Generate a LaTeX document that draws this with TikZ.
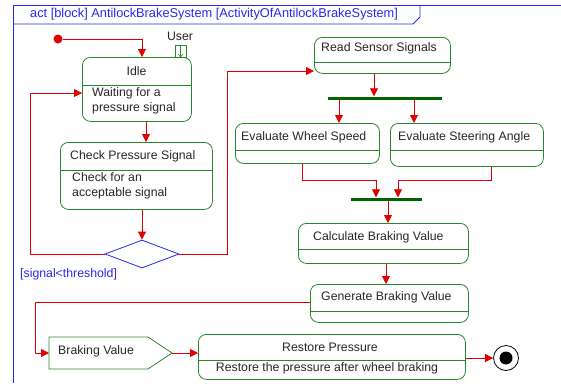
\documentclass[tikz,border=0pt]{standalone}
\usepackage{fontspec}
\setmainfont{Liberation Sans}
\usetikzlibrary{arrows.meta,shapes.geometric}
\definecolor{grn}{RGB}{40,135,40}
\definecolor{dgrn}{RGB}{0,100,0}
\definecolor{rd}{RGB}{225,0,0}
\definecolor{blu}{RGB}{40,40,235}
\begin{document}
\begin{tikzpicture}[x=1pt,y=-1pt, font=\fontsize{12.3}{15}\selectfont,
  box/.style={draw=grn, rounded corners=8pt, line width=0.8pt, anchor=north west, inner sep=0},
  div/.style={draw=grn, line width=0.8pt},
  flow/.style={draw=rd, line width=0.8pt},
  arr/.style={flow, -{Triangle[length=8pt,width=8pt]}},
  lbl/.style={anchor=west, inner sep=0, text=black!85},
  mlbl/.style={anchor=west, inner sep=0, text=black!85, align=left},
  bar/.style={fill=dgrn, inner sep=0, minimum height=3pt}]
\useasboundingbox (0,0) rectangle (561,383);
% frame
\draw[blu, line width=0.8pt] (13,383) -- (13,5) -- (561,5);
\draw[blu, line width=0.8pt] (13,24) -- (413,24) -- (420,17) -- (420,5);
\node[lbl, text=blu, font=\fontsize{12.8}{15}\selectfont] (title) at (30,14.5) {act [block] AntilockBrakeSystem [ActivityOfAntilockBrakeSystem]};
% boxes
\node[box, minimum width=109pt, minimum height=64pt] (idle) at (82,57) {};
\draw[div] (idle.west |- 0,85) -- (idle.east |- 0,85);
\node[inner sep=0, text=black!85] (idlet) at (136.5,71) {Idle};
\node[mlbl] (idleb) at (92,100.5) {Waiting for a\\pressure signal};

\node[box, minimum width=152pt, minimum height=67pt] (check) at (60,142) {};
\draw[div] (check.west |- 0,170) -- (check.east |- 0,170);
\node[lbl] (checkt) at (70,156) {Check Pressure Signal};
\node[mlbl] (checkb) at (72,185.5) {Check for an\\acceptable signal};

\node[box, minimum width=136pt, minimum height=36pt] (read) at (314,37) {};
\draw[div] (read.west |- 0,62) -- (read.east |- 0,62);
\node[lbl] (readt) at (321,48) {Read Sensor Signals};

\node[box, minimum width=144pt, minimum height=40pt] (evw) at (235,123) {};
\draw[div] (evw.west |- 0,150) -- (evw.east |- 0,150);
\node[lbl] (evwt) at (241,137) {Evaluate Wheel Speed};

\node[box, minimum width=153pt, minimum height=43pt] (evs) at (390,123) {};
\draw[div] (evs.west |- 0,150) -- (evs.east |- 0,150);
\node[lbl] (evst) at (398,137) {Evaluate Steering Angle};

\node[box, minimum width=170pt, minimum height=40pt] (calc) at (298,223) {};
\draw[div] (calc.west |- 0,249) -- (calc.east |- 0,249);
\node[lbl] (calct) at (313,237) {Calculate Braking Value};

\node[box, minimum width=158pt, minimum height=38pt] (gen) at (310,284) {};
\draw[div] (gen.west |- 0,311) -- (gen.east |- 0,311);
\node[lbl] (gent) at (321,297) {Generate Braking Value};

\node[box, minimum width=267pt, minimum height=45pt] (rest) at (198,334) {};
\draw[div] (rest.west |- 0,360) -- (rest.east |- 0,360);
\node[inner sep=0, text=black!85] (restt) at (330,347) {Restore Pressure};
\node[inner sep=0, text=black!85] (restb) at (327,368.5) {Restore the pressure after wheel braking};

% bars
\node[bar, minimum width=114pt] (fork) at (385,98) {};
\node[bar, minimum width=71pt] (join) at (386,199) {};

% decision
\node[diamond, draw=blu, line width=0.8pt, minimum width=74pt, minimum height=28pt, inner sep=0] (dec) at (142,254) {};
\node[lbl, text=blu] (guard) at (20,274) {[signal<threshold]};

% initial / final
\node[circle, fill=rd, minimum size=9pt, inner sep=0] (init) at (58,39) {};
\node[circle, draw=black, line width=0.8pt, minimum size=25pt, inner sep=0] (final) at (506,358) {};
\fill[black] (final.center) circle (6.5pt);

% user pin
\node[draw=grn, line width=0.8pt, minimum width=11pt, minimum height=12pt, inner sep=0] (pin) at (180.5,51) {};
\draw[grn, line width=0.6pt, -{Straight Barb[length=3pt,width=5pt]}] (pin.north) -- (pin.south);
\node[inner sep=0, text=black!85] (user) at (180,36) {User};

% Braking Value pin
\draw[grn, line width=0.8pt] (49,337) -- (148,337) -- (172,353) -- (148,369) -- (49,369) -- cycle;
\coordinate (bvL) at (49,353);
\coordinate (bvR) at (172,353);
\node[lbl] (bvt) at (58,351) {Braking Value};

% flows
\draw[arr] (init) -- (142,0 |- init) -- (142,0 |- idle.north);
\draw[arr] (146,0 |- idle.south) -- (146,0 |- check.north);
\draw[arr] (142,0 |- check.south) -- (dec.north);
\draw[arr] (dec.west) -- (30,254) -- (30,93) -- (idle.west |- 0,93);
\draw[arr] (dec.east) -- (227,254) -- (227,71) -- (read.west |- 0,71);
\draw[arr] (374,0 |- read.south) -- (374,0 |- fork.north);
\draw[arr] (339,0 |- fork.south) -- (339,0 |- evw.north);
\draw[arr] (414,0 |- fork.south) -- (414,0 |- evs.north);
\draw[arr] (302,0 |- evw.south) -- (302,180) -- (376,180) -- (376,0 |- join.north);
\draw[arr] (491,0 |- evs.south) -- (491,180) -- (398,180) -- (398,0 |- join.north);
\draw[arr] (388,0 |- join.south) -- (388,0 |- calc.north);
\draw[arr] (386,0 |- calc.south) -- (386,0 |- gen.north);
\draw[arr] (gen.west |- 0,302) -- (35,302) -- (35,353) -- (bvL);
\draw[arr] (bvR) -- (rest.west |- bvR);
\draw[arr] (rest.east |- 0,358) -- (final.west);
\end{tikzpicture}
\end{document}
